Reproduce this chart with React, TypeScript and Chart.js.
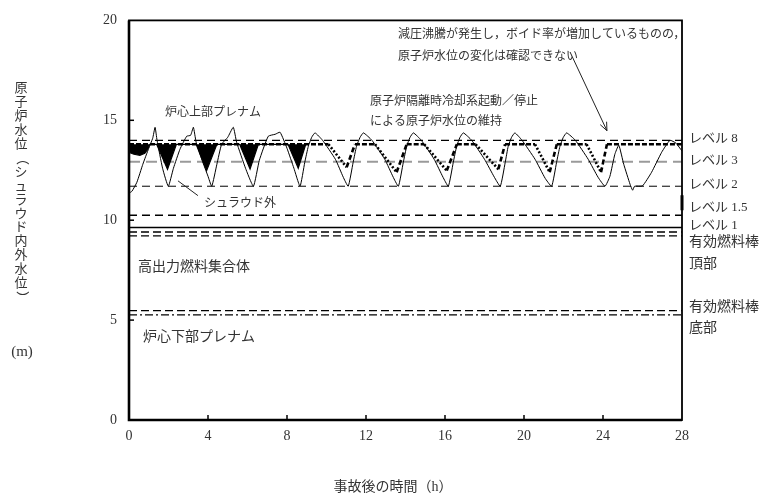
import React, { useEffect, useRef } from "react";
import { Chart, registerables } from "chart.js";

Chart.register(...registerables);

// ---- axis ticks ----
const xTicks = [0, 4, 8, 12, 16, 20, 24, 28];
const yTicks = [0, 5, 10, 15, 20];

// ---- shroud outside water level (thin line) ----
const outerTime = [
  0, 0.15, 0.4, 0.7, 1.0, 1.2, 1.32, 1.42, 1.7, 1.99, 2.25, 2.58, 2.92, 3.12, 3.26, 3.4, 3.7, 4.0, 4.19,
  4.45, 4.69, 5.0, 5.28, 5.45, 5.9, 6.3, 6.6, 7.05, 7.4, 7.65, 8.0, 8.35, 8.66, 8.9, 9.08, 9.25, 9.42,
  9.8, 10.45, 10.85, 11.1, 11.35, 11.52, 11.7, 11.87, 12.3, 12.95, 13.38, 13.64, 13.89, 14.06, 14.23, 14.4,
  14.8, 15.45, 15.9, 16.17, 16.42, 16.59, 16.76, 16.93, 17.35, 18.0, 18.5, 18.8, 19.05, 19.2, 19.37, 19.54,
  19.9, 20.56, 21.07, 21.4, 21.65, 21.82, 21.99, 22.16, 22.6, 23.25, 23.75, 24.1, 24.35, 24.6, 24.8, 25.05,
  25.37, 25.5, 25.6, 26.0, 26.46, 26.97, 27.39, 27.7, 28,
];
const outerLevel = [
  11.35, 11.45, 11.9, 12.8, 13.6, 14.1, 14.65, 14.0, 12.6, 11.7, 12.6, 13.55, 14.2, 14.25, 14.65, 13.9, 13.0, 12.2, 11.7,
  12.8, 13.8, 14.15, 14.65, 13.9, 12.6, 11.7, 13.0, 14.2, 14.3, 14.4, 13.6, 12.6, 11.7, 12.9, 13.7, 14.15, 14.37,
  14.0, 13.05, 12.15, 11.7, 12.9, 13.7, 14.15, 14.37, 14.0, 13.05, 12.15, 11.7, 12.9, 13.7, 14.15, 14.37,
  14.0, 13.05, 12.15, 11.7, 12.9, 13.7, 14.15, 14.37, 14.0, 13.05, 12.15, 11.7, 12.9, 13.7, 14.15, 14.37,
  14.0, 13.05, 12.1, 11.7, 12.9, 13.7, 14.15, 14.37, 14.0, 13.05, 12.15, 11.7, 12.2, 13.3, 13.75, 12.8,
  11.8, 11.5, 11.7, 11.72, 12.4, 13.4, 14.0, 13.85, 13.46,
];

// ---- shroud inside water level (thick dashed line) ----
const innerTime = [
  0, 10.1, 11.02, 11.44, 12.46, 13.55, 14.06, 14.95, 16.09, 16.6, 17.55, 18.7, 19.04, 20.56, 21.3, 21.66,
  23.17, 23.9, 24.2, 28,
];
const innerLevel = [
  13.8, 13.8, 12.65, 13.8, 13.8, 12.4, 13.8, 13.8, 12.48, 13.8, 13.8, 12.55, 13.8, 13.8, 12.4, 13.8,
  13.8, 12.4, 13.8, 13.8,
];

// ---- shroud inside level, early period (dense oscillation drawn as filled band) ----
const innerEarlyTime = [
  0, 0.25, 0.55, 0.8, 0.95, 1.05, 1.4, 1.95, 2.4, 3.4, 3.93, 4.45, 5.6, 6.13, 6.55, 8.05, 8.57, 8.95,
];
const innerEarlyLevel = [
  13.4, 13.3, 13.25, 13.35, 13.55, 13.8, 13.8, 12.55, 13.8, 13.8, 12.48, 13.8, 13.8, 12.56, 13.8, 13.8, 12.6, 13.8,
];
const innerEarlyTop = 13.8;

// ---- end-of-record mark ----
const endMarkTime = [28, 28];
const endMarkLevel = [11.25, 10.5];

// ---- reference levels (m) ----
const refNames = ["L8", "L3", "L2", "L1.5", "L1", "TAF-a", "TAF-b", "BAF-a", "BAF-b"];
const refValues = [14.0, 12.92, 11.7, 10.25, 9.64, 9.41, 9.22, 5.47, 5.26];

// ---- right-side labels ----
const rightLabels = ["レベル 8", "レベル 3", "レベル 2", "レベル 1.5", "レベル 1", "有効燃料棒", "頂部", "有効燃料棒", "底部"];
const rightLabelValues = [14.09, 12.96, 11.77, 10.62, 9.72, 8.87, 7.78, 5.62, 4.6];

// ---- in-plot annotations ----
const noteTexts = [
  "減圧沸騰が発生し，ボイド率が増加しているものの，",
  "原子炉水位の変化は確認できない",
  "原子炉隔離時冷却系起動／停止",
  "による原子炉水位の維持",
  "炉心上部プレナム",
  "シュラウド外",
  "高出力燃料集合体",
  "炉心下部プレナム",
];
const noteTime = [13.62, 13.62, 12.2, 12.2, 1.82, 3.8, 0.46, 0.71];
const noteLevel = [19.26, 18.18, 15.91, 14.93, 15.37, 10.84, 7.64, 4.14];

const yTitle = "原子炉水位（シュラウド内外水位）";
const yUnit = "(m)";
const xTitle = "事故後の時間（h）";

// styles (kept separate from data)
const refStyles = [
  { color: "#000", width: 1.3, dash: [8, 5] },
  { color: "#9a9a9a", width: 2, dash: [11, 6] },
  { color: "#000", width: 1, dash: [8, 5] },
  { color: "#000", width: 1.5, dash: [8, 5] },
  { color: "#000", width: 1.5, dash: [] },
  { color: "#000", width: 1.3, dash: [8, 4] },
  { color: "#000", width: 1.3, dash: [8, 4] },
  { color: "#000", width: 1.3, dash: [8, 4] },
  { color: "#000", width: 1.3, dash: [8, 3, 2, 3] },
];
const noteSizes = [12, 12, 12, 12, 12, 12, 14, 14];
const rightSizes = [13, 13, 13, 13, 13, 14, 14, 14, 14];

const JP = '"Liberation Serif", "Noto Sans CJK JP", serif';
const TXT = "#333";

const zip = (xs: number[], ys: number[]) => xs.map((x, i) => ({ x, y: ys[i] }));

const overlay = {
  id: "overlay",
  afterDatasetsDraw(chart: any) {
    const { ctx, chartArea: a, scales } = chart;
    const x = scales.x;
    const y = scales.y;
    ctx.save();
    // frame
    ctx.strokeStyle = "#000";
    ctx.setLineDash([]);
    ctx.lineWidth = 1.8;
    ctx.strokeRect(a.left, a.top, a.right - a.left, a.bottom - a.top);
    ctx.lineWidth = 2.6;
    ctx.beginPath();
    ctx.moveTo(a.left, a.top);
    ctx.lineTo(a.left, a.bottom);
    ctx.lineTo(a.right, a.bottom);
    ctx.stroke();
    // inner tick marks
    ctx.lineWidth = 1.5;
    xTicks.slice(1, -1).forEach((t) => {
      const px = x.getPixelForValue(t);
      ctx.beginPath();
      ctx.moveTo(px, a.bottom);
      ctx.lineTo(px, a.bottom - 5);
      ctx.stroke();
    });
    yTicks.slice(1, -1).forEach((v) => {
      const py = y.getPixelForValue(v);
      ctx.beginPath();
      ctx.moveTo(a.left, py);
      ctx.lineTo(a.left + 5, py);
      ctx.stroke();
    });
    // annotations
    ctx.fillStyle = TXT;
    ctx.textBaseline = "middle";
    ctx.textAlign = "left";
    noteTexts.forEach((s, i) => {
      ctx.font = `${noteSizes[i]}px ${JP}`;
      ctx.fillText(s, x.getPixelForValue(noteTime[i]), y.getPixelForValue(noteLevel[i]));
    });
    rightLabels.forEach((s, i) => {
      ctx.font = `${rightSizes[i]}px ${JP}`;
      ctx.fillText(s, a.right + 7, y.getPixelForValue(rightLabelValues[i]));
    });
    // arrow
    ctx.strokeStyle = "#222";
    ctx.lineWidth = 1;
    const ax0 = x.getPixelForValue(22.33), ay0 = y.getPixelForValue(18.42);
    const ax1 = x.getPixelForValue(24.2), ay1 = y.getPixelForValue(14.48);
    ctx.beginPath();
    ctx.moveTo(ax0, ay0);
    ctx.lineTo(ax1, ay1);
    ctx.stroke();
    const ang = Math.atan2(ay1 - ay0, ax1 - ax0);
    ctx.beginPath();
    ctx.moveTo(ax1 - 9 * Math.cos(ang - 0.4), ay1 - 9 * Math.sin(ang - 0.4));
    ctx.lineTo(ax1, ay1);
    ctx.lineTo(ax1 - 9 * Math.cos(ang + 0.4), ay1 - 9 * Math.sin(ang + 0.4));
    ctx.stroke();
    // leader to シュラウド外
    ctx.beginPath();
    ctx.moveTo(x.getPixelForValue(3.49), y.getPixelForValue(11.23));
    ctx.lineTo(x.getPixelForValue(2.48), y.getPixelForValue(11.97));
    ctx.stroke();
    // y title (vertical, stacked)
    ctx.font = `13px ${JP}`;
    ctx.textAlign = "center";
    const chars = Array.from(yTitle);
    chars.forEach((c, i) => {
      const cy = 89 + i * 13.9;
      if (c === "（" || c === "）") {
        ctx.save();
        ctx.translate(21, cy);
        ctx.rotate(Math.PI / 2);
        ctx.fillText(c, 0, 0);
        ctx.restore();
      } else {
        ctx.fillText(c, 21, cy);
      }
    });
    ctx.font = `15px "Liberation Serif", serif`;
    ctx.fillText(yUnit, 22, 352);
    // x title
    ctx.font = `14px ${JP}`;
    ctx.fillText(xTitle, 393, 487);
    ctx.restore();
  },
};

export default function App() {
  const ref = useRef<HTMLCanvasElement | null>(null);
  useEffect(() => {
    if (!ref.current) return;
    const refSets = refValues.map((v, i) => ({
      label: refNames[i],
      data: [
        { x: 0, y: v },
        { x: 28, y: v },
      ],
      borderColor: refStyles[i].color,
      borderWidth: refStyles[i].width,
      borderDash: refStyles[i].dash,
      pointRadius: 0,
      fill: false,
      order: 5,
    }));
    const chart = new Chart(ref.current, {
      type: "line",
      data: {
        datasets: [
          ...refSets,
          {
            label: "inner-early",
            data: zip(innerEarlyTime, innerEarlyLevel),
            borderColor: "#000",
            borderWidth: 1.2,
            backgroundColor: "#000",
            fill: { value: innerEarlyTop },
            pointRadius: 0,
            order: 3,
          } as any,
          {
            label: "inner",
            data: zip(innerTime, innerLevel),
            borderColor: "#000",
            borderWidth: 2.6,
            borderDash: [5, 2],
            segment: {
              borderDash: (c: any) =>
                c.p1.parsed.y < c.p0.parsed.y - 0.01 ? [2, 2] : c.p1.parsed.y > c.p0.parsed.y + 0.01 ? [5, 3] : [5, 2],
            },
            pointRadius: 0,
            fill: false,
            order: 2,
          } as any,
          {
            label: "outer",
            data: zip(outerTime, outerLevel),
            borderColor: "#000",
            borderWidth: 1,
            pointRadius: 0,
            fill: false,
            tension: 0.15,
            order: 1,
          },
          {
            label: "end",
            data: zip(endMarkTime, endMarkLevel),
            borderColor: "#000",
            borderWidth: 3,
            pointRadius: 0,
            fill: false,
            clip: false as any,
            order: 0,
          },
        ],
      },
      options: {
        animation: false,
        responsive: true,
        maintainAspectRatio: false,
        layout: { padding: { top: 14, right: 81, left: 0, bottom: 0 } },
        plugins: { legend: { display: false }, tooltip: { enabled: false } },
        scales: {
          x: {
            type: "linear",
            min: 0,
            max: 28,
            afterFit: (s: any) => {
              s.height = 84;
            },
            afterBuildTicks: (s: any) => {
              s.ticks = xTicks.map((v) => ({ value: v }));
            },
            ticks: { color: TXT, font: { family: "Liberation Serif", size: 14 }, padding: 8, maxRotation: 0 },
            grid: { display: false, drawTicks: false },
            border: { display: false },
          },
          y: {
            type: "linear",
            min: 0,
            max: 20,
            afterFit: (s: any) => {
              s.width = 129;
            },
            afterBuildTicks: (s: any) => {
              s.ticks = yTicks.map((v) => ({ value: v }));
            },
            ticks: { color: TXT, font: { family: "Liberation Serif", size: 14 }, padding: 12 },
            grid: { display: false, drawTicks: false },
            border: { display: false },
          },
        },
      },
      plugins: [overlay],
    });
    return () => chart.destroy();
  }, []);
  return (
    <div style={{ position: "fixed", left: 0, top: 0, width: 763, height: 504, background: "#fff" }}>
      <canvas ref={ref} />
    </div>
  );
}
